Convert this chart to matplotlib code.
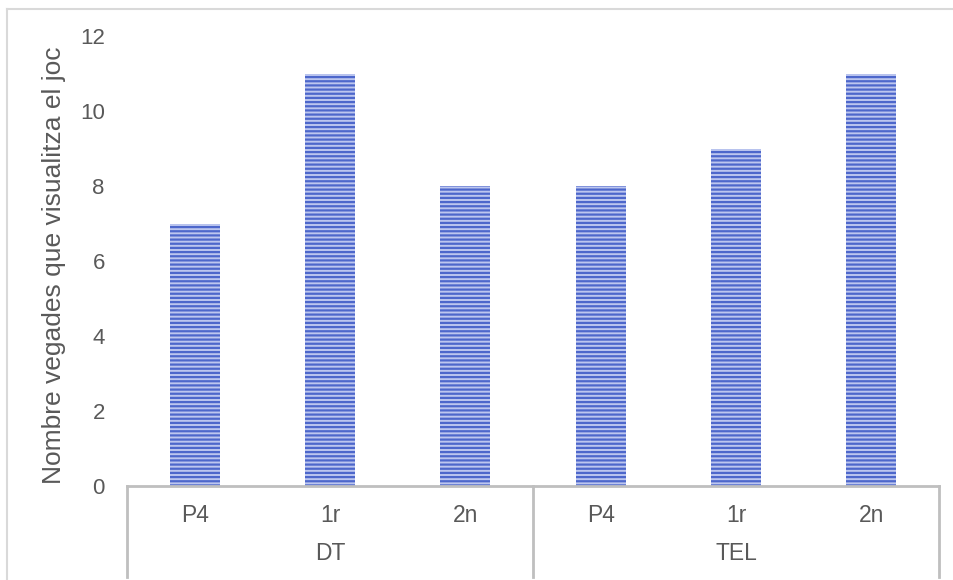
import matplotlib
matplotlib.use("Agg")
import matplotlib.pyplot as plt
from matplotlib.lines import Line2D

plt.rcParams['font.family'] = ['Liberation Sans', 'DejaVu Sans']
plt.rcParams['hatch.linewidth'] = 1.6

groups = ["DT", "TEL"]
categories = ["P4", "1r", "2n"]
values = [7, 11, 8, 8, 9, 11]
yticks = [0, 2, 4, 6, 8, 10, 12]
ylabel = "Nombre vegades que visualitza el joc"

W, H = 954, 580
fig = plt.figure(figsize=(W / 100, H / 100), dpi=100)
ax = fig.add_axes([127 / W, 94 / H, 812 / W, 450 / H])

n = len(values)
x = list(range(n))
ax.bar(x, values, width=0.37, color='#bcc6ef', edgecolor='#4d67cb',
       linewidth=0, hatch='----')

ax.set_xlim(-0.5, n - 0.5)
ax.set_ylim(0, 12)
ax.set_yticks(yticks)
ax.set_yticklabels([str(t) for t in yticks], fontsize=16, color='#595959')
ax.tick_params(axis='y', length=0, pad=16)
ax.set_xticks([])
for s in ['top', 'right', 'left']:
    ax.spines[s].set_visible(False)
ax.spines['bottom'].set_color('#bfbfbf')
ax.spines['bottom'].set_linewidth(2)
fig.text(54 / W, 1 - 265 / H, ylabel, rotation=90, ha='center', va='center',
         fontsize=19, color='#595959')

trans = ax.get_xaxis_transform()
gray = '#bfbfbf'
# category labels
cat_labels = [c for g in groups for c in categories]
for i, lab in enumerate(cat_labels):
    ax.text(i, -30 / 450, lab, transform=trans, ha='center', va='center',
            fontsize=16.5, color='#595959')
# group labels and separators
k = len(categories)
for gi, g in enumerate(groups):
    center = gi * k + (k - 1) / 2
    ax.text(center, -67 / 450, g, transform=trans, ha='center', va='center',
            fontsize=16.5, color='#595959')
for b in range(len(groups) + 1):
    xb = b * k - 0.5
    ax.add_line(Line2D([xb, xb], [0, -91 / 450], transform=trans, color=gray,
                       linewidth=2, clip_on=False))

# outer chart frame
fig.add_artist(Line2D([7 / W, 7 / W], [1 - 9 / H, 0], color='#d9d9d9', linewidth=1.5))
fig.add_artist(Line2D([7 / W, 1], [1 - 9 / H, 1 - 9 / H], color='#d9d9d9', linewidth=1.5))

fig.savefig("out.png", dpi=100)
